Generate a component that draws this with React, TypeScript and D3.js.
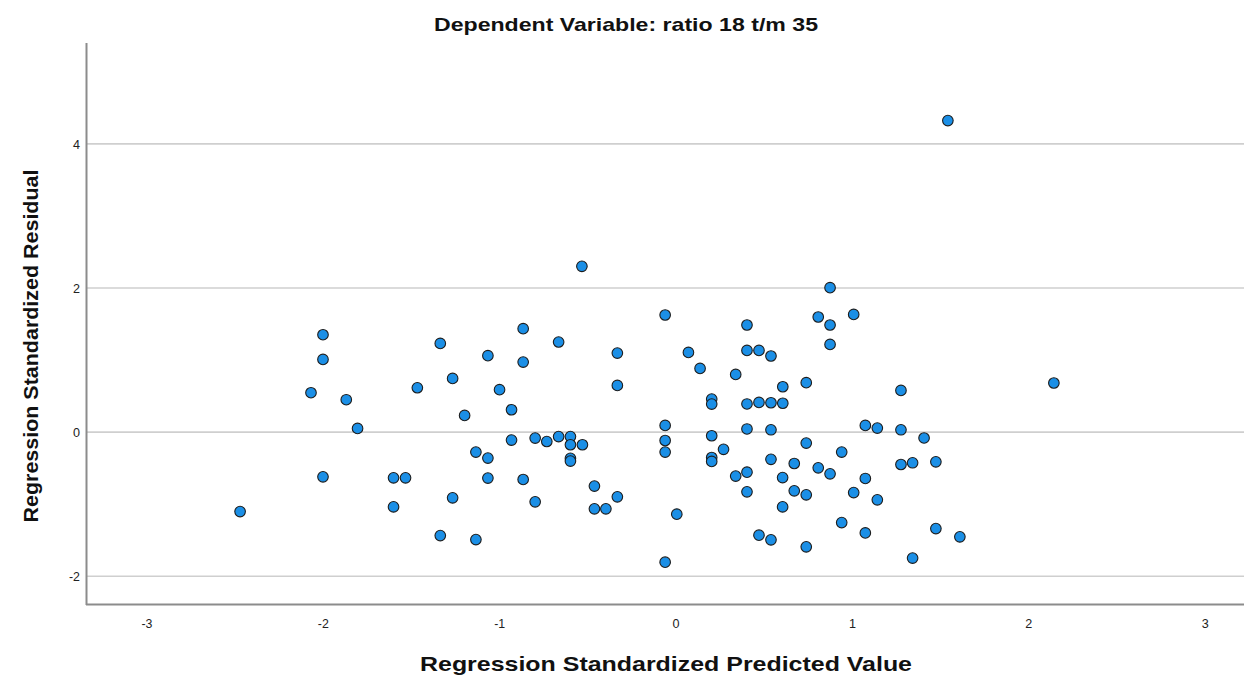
import React from "react";
import * as d3 from "d3";

const predicted: number[] = [
  -2.472, -2.07, -2.002, -2.002, -2.002, -1.87, -1.806, -1.602, -1.534, -1.602,
  -1.467, -1.337, -1.337, -1.267, -1.267, -1.199, -1.135, -1.135, -1.067, -1.067,
  -1.067, -1.001, -0.933, -0.933, -0.867, -0.867, -0.867, -0.799, -0.799, -0.733,
  -0.666, -0.666, -0.599, -0.599, -0.599, -0.599, -0.531, -0.534, -0.463, -0.463,
  -0.398, -0.333, -0.333, -0.333, -0.062, -0.062, -0.062, -0.062, -0.062, 0.004,
  0.07, 0.136, 0.202, 0.202, 0.202, 0.202, 0.202, 0.269, 0.338, 0.338,
  0.402, 0.402, 0.402, 0.402, 0.402, 0.402, 0.47, 0.47, 0.47, 0.538,
  0.538, 0.538, 0.538, 0.538, 0.605, 0.605, 0.604, 0.604, 0.67, 0.67,
  0.738, 0.738, 0.738, 0.738, 0.806, 0.806, 0.873, 0.873, 0.873, 0.873,
  0.939, 0.939, 1.007, 1.007, 1.073, 1.073, 1.073, 1.141, 1.141, 1.275,
  1.275, 1.275, 1.341, 1.341, 1.406, 1.473, 1.473, 1.541, 1.609, 2.142,
];

const residual: number[] = [
  -1.103, 0.546, 1.351, 1.008, -0.621, 0.449, 0.05, -0.635, -0.635, -1.038,
  0.615, 1.231, -1.436, 0.744, -0.913, 0.231, -0.278, -1.492, 1.06, -0.361,
  -0.639, 0.588, 0.31, -0.111, 1.435, 0.972, -0.658, -0.083, -0.968, -0.131,
  1.25, -0.063, -0.063, -0.176, -0.364, -0.403, -0.176, 2.3, -0.75, -1.065,
  -1.065, 1.097, 0.647, -0.899, 1.625, 0.092, -0.117, -0.278, -1.806, -1.139,
  1.106, 0.883, 0.458, 0.389, -0.051, -0.353, -0.408, -0.239, 0.8, -0.611,
  1.486, 1.133, 0.39, 0.043, -0.556, -0.829, 1.133, 0.411, -1.431, 1.056,
  0.407, 0.032, -0.378, -1.496, 0.629, 0.4, -0.631, -1.038, -0.436, -0.815,
  0.685, -0.153, -0.871, -1.593, 1.597, -0.496, 2.004, 1.486, 1.217, -0.579,
  -0.278, -1.256, 1.633, -0.839, 0.092, -0.644, -1.399, 0.056, -0.94, 0.578,
  0.032, -0.45, -0.426, -1.749, -0.082, -0.413, -1.339, 4.324, -1.454, 0.681,
];

const xTicks: number[] = [-3, -2, -1, 0, 1, 2, 3];
const yTicks: number[] = [-2, 0, 2, 4];

const title = "Dependent Variable: ratio 18 t/m 35";
const xLabel = "Regression Standardized Predicted Value";
const yLabel = "Regression Standardized Residual";

export default function App() {
  const W = 1244;
  const H = 685;
  const left = 87;
  const right = 1244;
  const top = 43;
  const bottom = 605;

  const x = d3.scaleLinear().domain([-3.34, 3.22]).range([left, right]);
  const y = d3.scaleLinear().domain([-2.4, 5.4]).range([bottom, top]);

  const pts = d3.zip(predicted, residual);
  const font = "'Liberation Sans', Arial, sans-serif";

  return (
    <svg
      width={W}
      height={H}
      style={{ position: "absolute", left: 0, top: 0, background: "#fff" }}
      fontFamily={font}
    >
      <rect x={0} y={0} width={W} height={H} fill="#fff" />
      {yTicks.map((t) => (
        <line
          key={"g" + t}
          x1={left}
          x2={right}
          y1={y(t)}
          y2={y(t)}
          stroke="#cfcfcf"
          strokeWidth={1.6}
        />
      ))}
      <line x1={left - 0.5} x2={left - 0.5} y1={top} y2={bottom} stroke="#8c8c8c" strokeWidth={2} />
      <line x1={left - 1} x2={right} y1={bottom - 0.5} y2={bottom - 0.5} stroke="#8c8c8c" strokeWidth={2} />
      {yTicks.map((t) => (
        <text key={"yt" + t} x={80} y={y(t) + 5} textAnchor="end" fontSize={13.5} fill="#222" textLength={t < 0 ? 11 : 7} lengthAdjust="spacingAndGlyphs">
          {t}
        </text>
      ))}
      {xTicks.map((t) => (
        <text key={"xt" + t} x={x(t)} y={628} textAnchor="middle" fontSize={13.5} fill="#222" textLength={t < 0 ? 11 : 7} lengthAdjust="spacingAndGlyphs">
          {t}
        </text>
      ))}
      {pts.map(([px, py], i) => (
        <circle
          key={i}
          cx={x(px)}
          cy={y(py)}
          r={5.3}
          fill="#1b8fe6"
          stroke="#1d1d1d"
          strokeWidth={1.1}
        />
      ))}
      <text x={626} y={31} textAnchor="middle" fontSize={18.5} fontWeight="bold" fill="#111" textLength={384} lengthAdjust="spacingAndGlyphs">
        {title}
      </text>
      <text x={666} y={671} textAnchor="middle" fontSize={21} fontWeight="bold" fill="#111" textLength={492} lengthAdjust="spacingAndGlyphs">
        {xLabel}
      </text>
      <text
        transform={`translate(38, 346) rotate(-90)`}
        textAnchor="middle"
        fontSize={21}
        fontWeight="bold"
        fill="#111"
        textLength={353}
        lengthAdjust="spacingAndGlyphs"
      >
        {yLabel}
      </text>
    </svg>
  );
}
